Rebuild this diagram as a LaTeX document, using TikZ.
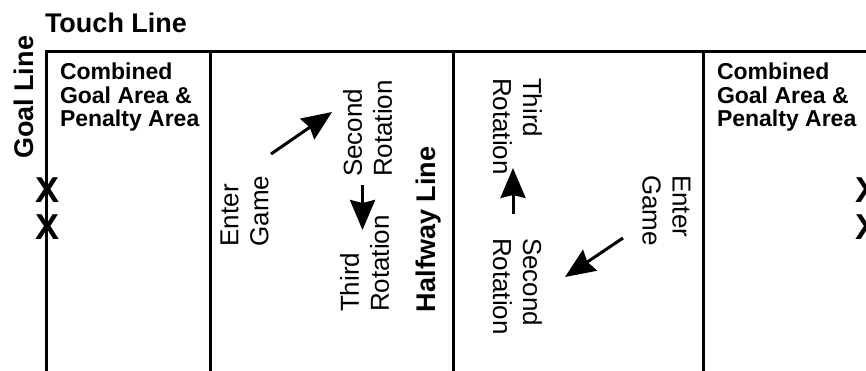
\documentclass[tikz,border=0pt]{standalone}
\usepackage{fontspec}
\setmainfont{Liberation Sans}
\usetikzlibrary{arrows.meta}
\tikzset{
  fieldline/.style={line width=3pt, miter limit=10},
  mover/.style={line width=3pt, -{Stealth[length=30pt,width=25pt,inset=3pt]}},
  lbl/.style={inner sep=0pt, outer sep=0pt, font=\fontsize{26}{30}\selectfont, align=left},
  blbl/.style={inner sep=0pt, outer sep=0pt, font=\bfseries\fontsize{27}{30}\selectfont},
  area/.style={inner sep=0pt, outer sep=0pt, font=\bfseries\fontsize{23}{23.5}\selectfont, align=left},
  xmark/.style={inner sep=0pt, outer sep=0pt, font=\bfseries\fontsize{36}{40}\selectfont},
}
\begin{document}
\begin{tikzpicture}[x=1pt,y=-1pt]
\useasboundingbox (0,0) rectangle (866,371);
% field lines
\draw[fieldline] (46.7,371) -- (46.7,52) -- (870,52);
\draw[fieldline] (210.8,52) -- (210.8,371);
\draw[fieldline] (453.3,52) -- (453.3,371);
\draw[fieldline] (703.3,52) -- (703.3,371);
% titles
\node[blbl, anchor=base west] (touch) at (45,33) {Touch Line};
\node[blbl, rotate=90, anchor=base west] (goal) at (33,159) {Goal Line};
\node[blbl, rotate=90, anchor=base west] (half) at (435.5,312) {Halfway Line};
% areas
\node[area, anchor=north west] (areaL) at (60,63) {Combined\\Goal Area \&\\Penalty Area};
\node[area, anchor=north west] (areaR) at (717,63) {Combined\\Goal Area \&\\Penalty Area};
% goal marks
\node[xmark] (xL1) at (47.5,190) {X};
\node[xmark] (xL2) at (47.5,227) {X};
\node[xmark] (xR1) at (867,190) {X};
\node[xmark] (xR2) at (867,227) {X};
% left half labels
\node[lbl, rotate=90] (enterL) at (244.5,211) {Enter\\Game};
\node[lbl, rotate=90] (secondL) at (367.5,128.5) {Second\\Rotation};
\node[lbl, rotate=90] (thirdL) at (364.5,263.5) {Third\\Rotation};
% right half labels
\node[lbl, rotate=-90] (thirdR) at (517.5,126.5) {Third\\Rotation};
\node[lbl, rotate=-90] (secondR) at (517.5,286.5) {Second\\Rotation};
\node[lbl, rotate=-90] (enterR) at (666.5,210.5) {Enter\\Game};
% arrows
\coordinate (aL1) at (271,154);
\coordinate (aL2) at (332,112);
\coordinate (aL3) at (362.5,185);
\coordinate (aL4) at (362.5,230);
\coordinate (aR1) at (513,214);
\coordinate (aR2) at (513,168);
\coordinate (aR3) at (623,238);
\coordinate (aR4) at (565,277);
\draw[mover] (aL1) -- (aL2);
\draw[mover] (aL3) -- (aL4);
\draw[mover] (aR1) -- (aR2);
\draw[mover] (aR3) -- (aR4);
\end{tikzpicture}
\end{document}
